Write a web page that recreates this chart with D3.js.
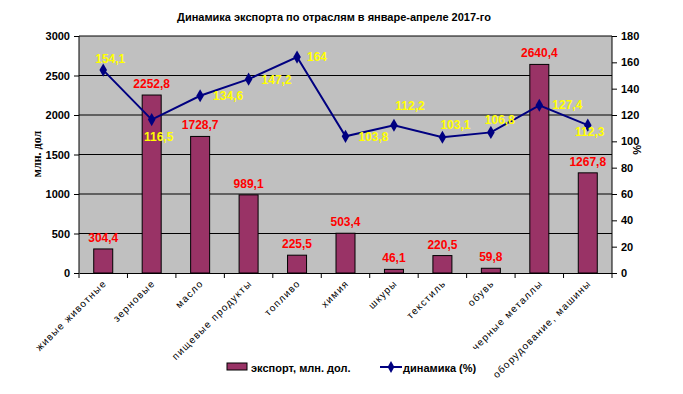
<!DOCTYPE html>
<html>
<head>
<meta charset="utf-8">
<script src="https://cdn.jsdelivr.net/npm/d3@7"></script>
<style>
  body { margin: 0; background: #fff; }
  text { font-family: Arial, "Liberation Sans", sans-serif; }
</style>
</head>
<body>
<div id="chart"></div>
<script>
// data
var categories = ["живые животные", "зерновые", "масло", "пищевые продукты", "топливо", "химия",
  "шкуры", "текстиль", "обувь", "черные металлы", "оборудование, машины"];
var exportValues = [304.4, 2252.8, 1728.7, 989.1, 225.5, 503.4, 46.1, 220.5, 59.8, 2640.4, 1267.8];
var dynamics = [154.1, 116.5, 134.6, 147.2, 164, 103.8, 112.2, 103.1, 106.8, 127.4, 112.3];
var leftTicks = [0, 500, 1000, 1500, 2000, 2500, 3000];
var rightTicks = [0, 20, 40, 60, 80, 100, 120, 140, 160, 180];
// where each yellow label sits relative to its point
var dynLabelPos = [[7, -7], [7, 21], [28, 4], [28, 5], [20, 4], [28, 5], [16, -15], [13, -8], [9, -8], [28, 4], [2, 11]];

var W = 683, H = 394;
var margin = {top: 36, right: 71, bottom: 121, left: 79};
var width = W - margin.left - margin.right;
var height = H - margin.top - margin.bottom;

var svg = d3.select("#chart").append("svg")
  .attr("width", W).attr("height", H);

var fmt = function(v) { return String(v).replace(".", ","); };

svg.append("text")
  .attr("x", 334).attr("y", 21)
  .attr("text-anchor", "middle")
  .style("font-size", "11px").style("font-weight", "bold")
  .text("Динамика экспорта по отраслям в январе-апреле 2017-го");

var g = svg.append("g")
  .attr("transform", "translate(" + margin.left + "," + margin.top + ")");

var x = d3.scaleBand().domain(categories).range([0, width]);
var yL = d3.scaleLinear().domain([0, 3000]).range([height, 0]);
var yR = d3.scaleLinear().domain([0, 180]).range([height, 0]);

g.append("rect")
  .attr("width", width).attr("height", height)
  .attr("fill", "#c0c0c0");

// gridlines
g.selectAll(".grid").data(leftTicks.slice(1)).enter().append("line")
  .attr("x1", 0).attr("x2", width)
  .attr("y1", function(d) { return yL(d); })
  .attr("y2", function(d) { return yL(d); })
  .attr("stroke", "#000").attr("stroke-width", 1);

// bars
var barW = 19;
g.selectAll(".bar").data(exportValues).enter().append("rect")
  .attr("x", function(d, i) { return x(categories[i]) + x.bandwidth() / 2 - barW / 2; })
  .attr("y", function(d) { return yL(d); })
  .attr("width", barW)
  .attr("height", function(d) { return height - yL(d); })
  .attr("fill", "#993366")
  .attr("stroke", "#000").attr("stroke-width", 1);

// axes
var axL = g.append("g").call(d3.axisLeft(yL).tickValues(leftTicks).tickFormat(d3.format("d")).tickSize(5).tickPadding(4));
var axR = g.append("g").attr("transform", "translate(" + width + ",0)")
  .call(d3.axisRight(yR).tickValues(rightTicks).tickFormat(d3.format("d")).tickSize(5).tickPadding(4));
var axB = g.append("g").attr("transform", "translate(0," + height + ")")
  .call(d3.axisBottom(x).tickValues([]).tickSizeOuter(0));
[axL, axR].forEach(function(a) {
  a.selectAll("text").style("font-size", "11px").style("font-weight", "bold")
    .style("font-family", "Arial, 'Liberation Sans', sans-serif").attr("fill", "#000");
  a.selectAll("line, path").attr("stroke", "#000");
});
axL.select(".domain").attr("d", "M0," + height + "V0");
axR.select(".domain").attr("d", "M0," + height + "V0");
axB.select(".domain").attr("stroke", "#000");

// x ticks at band boundaries
g.selectAll(".xt").data(d3.range(categories.length + 1)).enter().append("line")
  .attr("x1", function(i) { return i * x.step(); })
  .attr("x2", function(i) { return i * x.step(); })
  .attr("y1", height).attr("y2", height + 5)
  .attr("stroke", "#000");

// x labels
g.selectAll(".xl").data(categories).enter().append("text")
  .attr("transform", function(d) {
    return "translate(" + (x(d) + x.bandwidth() / 2 + 4) + "," + (height + 11) + ") rotate(-45)";
  })
  .attr("text-anchor", "end")
  .style("font-size", "10px")
  .style("letter-spacing", "1.2px")
  .text(function(d) { return d; });

// bar value labels
g.selectAll(".bl").data(exportValues).enter().append("text")
  .attr("x", function(d, i) { return x(categories[i]) + x.bandwidth() / 2; })
  .attr("y", function(d) { return yL(d) - 7; })
  .attr("text-anchor", "middle")
  .attr("fill", "#ff0000")
  .style("font-size", "12px").style("font-weight", "bold")
  .text(fmt);

// line
var line = d3.line()
  .x(function(d, i) { return x(categories[i]) + x.bandwidth() / 2; })
  .y(function(d) { return yR(d); });
g.append("path").datum(dynamics)
  .attr("d", line)
  .attr("fill", "none").attr("stroke", "#000080").attr("stroke-width", 2);
g.selectAll(".pt").data(dynamics).enter().append("path")
  .attr("d", d3.symbol(d3.symbolDiamond, 50))
  .attr("transform", function(d, i) {
    return "translate(" + (x(categories[i]) + x.bandwidth() / 2) + "," + yR(d) + ")";
  })
  .attr("fill", "#000080");

g.selectAll(".dl").data(dynamics).enter().append("text")
  .attr("x", function(d, i) { return x(categories[i]) + x.bandwidth() / 2 + dynLabelPos[i][0]; })
  .attr("y", function(d, i) { return yR(d) + dynLabelPos[i][1]; })
  .attr("text-anchor", "middle")
  .attr("fill", "#ffff00")
  .style("font-size", "12px").style("font-weight", "bold")
  .text(fmt);

// axis titles
svg.append("text")
  .attr("transform", "translate(41,154) rotate(-90)")
  .attr("text-anchor", "middle")
  .style("font-size", "12px").style("font-weight", "bold")
  .style("font-family", "'Times New Roman', 'Liberation Serif', serif")
  .text("млн. дол");
svg.append("text")
  .attr("transform", "translate(633,150) rotate(90)")
  .attr("text-anchor", "middle")
  .style("font-size", "11px").style("font-weight", "bold")
  .text("%");

// legend
var lg = svg.append("g");
lg.append("rect").attr("x", 227).attr("y", 363).attr("width", 20).attr("height", 7)
  .attr("fill", "#993366").attr("stroke", "#000");
lg.append("text").attr("x", 251).attr("y", 372)
  .style("font-size", "11px").style("font-weight", "bold")
  .text("экспорт, млн. дол.");
lg.append("line").attr("x1", 380).attr("x2", 402).attr("y1", 367).attr("y2", 367)
  .attr("stroke", "#000080").attr("stroke-width", 2);
lg.append("path").attr("d", d3.symbol(d3.symbolDiamond, 40))
  .attr("transform", "translate(391,367)").attr("fill", "#000080");
lg.append("text").attr("x", 403).attr("y", 372)
  .style("font-size", "11px").style("font-weight", "bold")
  .text("динамика (%)");
</script>
</body>
</html>
